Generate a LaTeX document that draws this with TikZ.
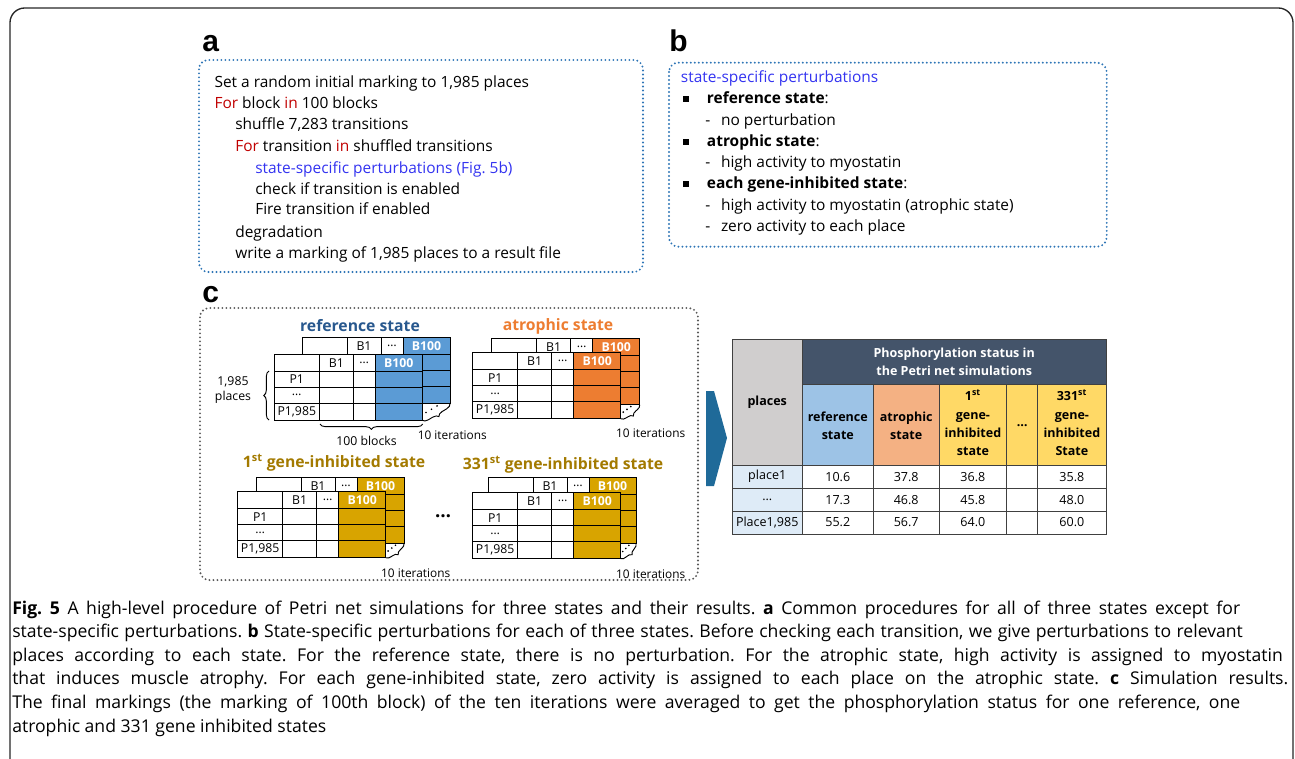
\documentclass[tikz,border=0pt]{standalone}
\usepackage{fontspec}
\setmainfont{Open Sans}
\newfontfamily\panelfont{Liberation Sans}
\usepackage{tikz}
\usetikzlibrary{decorations.pathreplacing,calc}
\frenchspacing
\definecolor{frameblue}{RGB}{46,117,182}
\definecolor{boxgrey}{RGB}{89,89,89}
\definecolor{forred}{RGB}{192,0,0}
\definecolor{pertblue}{RGB}{51,51,240}
\definecolor{refdark}{RGB}{40,88,142}
\definecolor{refblue}{RGB}{91,155,213}
\definecolor{atroorange}{RGB}{237,125,49}
\definecolor{genegold}{RGB}{216,164,0}
\definecolor{genedark}{RGB}{163,122,0}
\definecolor{navyhead}{RGB}{68,84,106}
\definecolor{placegrey}{RGB}{208,206,206}
\definecolor{refhead}{RGB}{157,195,230}
\definecolor{atrohead}{RGB}{244,177,131}
\definecolor{genehead}{RGB}{255,217,102}
\definecolor{placeblue}{RGB}{222,235,247}
\definecolor{arrowblue}{RGB}{31,106,153}
\definecolor{tabline}{RGB}{64,64,64}
\newcommand{\cellbf}{\fontsize{9.2}{11}\selectfont\bfseries}
% one layer of the block table: x, y, colour, name
\newcommand{\blocklayer}[4]{%
  \fill[white] ({#1},{#2}) rectangle ++(148,66);
  \fill[#3] ({#1+101},{#2}) rectangle ++(47,66);
  \draw[cellgrid] ({#1},{#2}) rectangle ++(148,66)
    ({#1},{#2+17}) -- ++(148,0) ({#1},{#2+33}) -- ++(148,0) ({#1},{#2+49}) -- ++(148,0)
    ({#1+45},{#2}) -- ++(0,66) ({#1+79},{#2}) -- ++(0,66) ({#1+101},{#2}) -- ++(0,66);
  \node[cellt] (#4-b1) at ({#1+62},{#2+8.5}) {B1};
  \node[cellt] (#4-dd) at ({#1+90},{#2+8.5}) {…};
  \node[cellt,text=white,font=\cellbf] (#4-b100) at ({#1+124.5},{#2+8.5}) {B100};
}
% stack of 10 layers: x, y, dx, dy, colour, name
\newcommand{\statestack}[6]{%
  \blocklayer{#1+#3}{#2-#4}{#5}{#6-back}
  \blocklayer{#1}{#2}{#5}{#6}
  \node[cellt] (#6-p1) at ({#1+22.5},{#2+25}) {P1};
  \node[cellt] (#6-pd) at ({#1+22.5},{#2+41}) {…};
  \node[cellt] (#6-pn) at ({#1+22.5},{#2+57.5}) {P1,985};
  \coordinate (#6-fc) at ({#1+148},{#2+66});
  \coordinate (#6-bc) at ({#1+#3+148},{#2-#4+66});
  \foreach \k in {-1,0,1}
    \fill ({#1+148+#3/3+\k*0.2*#3},{#2+66-2*#4/3-\k*0.2*#4}) circle (0.7pt);
  \draw[brc,decoration={mirror}] (#6-fc) -- (#6-bc);
  \node[iter] (#6-it) at ({#1+178},{#2+81}) {10 iterations};
}

\begin{document}
\begin{tikzpicture}[x=0.75pt,y=-0.75pt,
    every node/.style={inner sep=0pt},
    plabel/.style={font=\panelfont\fontsize{22.5}{24}\selectfont\bfseries,anchor=base west},
    pline/.style={font=\fontsize{11.6}{13}\selectfont,anchor=base west},
    dotbox/.style={draw=frameblue,line width=1.6pt,dash pattern=on 0pt off 3pt,line cap=round,rounded corners=7pt},
    greybox/.style={dotbox,draw=boxgrey},
    sq/.style={fill=black,minimum size=4.5pt},
    cellgrid/.style={draw=black,line width=0.6pt},
    cellt/.style={font=\fontsize{9.2}{11}\selectfont},
    sttitle/.style={font=\fontsize{11.8}{13}\selectfont\bfseries},
    iter/.style={font=\fontsize{8.9}{10}\selectfont},
    brc/.style={decorate,decoration={brace,amplitude=4pt},line width=0.7pt},
    tline/.style={draw=tabline,line width=0.7pt},
    th/.style={font=\fontsize{9.4}{13.8}\selectfont\bfseries,align=center},
    td/.style={font=\fontsize{9.4}{11}\selectfont},
    capline/.style={font=\fontsize{13.2}{15}\selectfont,anchor=base west}]
  \useasboundingbox (0,0) rectangle (1295,759);
  \clip (0,0) rectangle (1295,759);
  \draw[line width=1pt,draw=black!85,rounded corners=11pt] (10,8) rectangle (1293,775);

  % panel a
  \node[plabel] (la) at (202,52) {a};
  \draw[dotbox] (199,60) rectangle (643,272);
  \node[pline] (a1) at (214.3,87.3) {Set a random initial marking to 1,985 places};
  \node[pline] (a2) at (214.3,109) {\textcolor{forred}{For} block \textcolor{forred}{in} 100 blocks};
  \node[pline] (a3) at (235,130) {shuffle 7,283 transitions};
  \node[pline] (a4) at (235,151.7) {\textcolor{forred}{For} transition \textcolor{forred}{in} shuffled transitions};
  \node[pline,text=pertblue] (a5) at (255,173.3) {state-specific perturbations (Fig. 5b)};
  \node[pline] (a6) at (255,194.3) {check if transition is enabled};
  \node[pline] (a7) at (255,215) {Fire transition if enabled};
  \node[pline] (a8) at (235,237.3) {degradation};
  \node[pline] (a9) at (235,258.3) {write a marking of 1,985 places to a result file};

  % panel b
  \node[plabel] (lb) at (669,52) {b};
  \draw[dotbox] (669,62.7) rectangle (1106.7,246.7);
  \node[pline,text=pertblue] (b1) at (680.7,82.7) {state-specific perturbations};
  \node[sq] (q1) at (686,99) {};
  \node[sq] (q2) at (686,141.7) {};
  \node[sq] (q3) at (686,184) {};
  \node[pline] (b2) at (706.7,104) {\textbf{reference state}:};
  \node[pline] (b3) at (705,125.7) {\makebox[11.8pt][l]{-}no perturbation};
  \node[pline] (b4) at (706.7,146.7) {\textbf{atrophic state}:};
  \node[pline] (b5) at (705,168) {\makebox[11.8pt][l]{-}high activity to myostatin};
  \node[pline] (b6) at (706.7,189) {\textbf{each gene-inhibited state}:};
  \node[pline] (b7) at (705,211) {\makebox[11.8pt][l]{-}high activity to myostatin (atrophic state)};
  \node[pline] (b8) at (705,232) {\makebox[11.8pt][l]{-}zero activity to each place};

  % panel c
  \node[plabel] (lc) at (202,302) {c};
  \draw[greybox] (200,308) rectangle (698,580);
  \node[sttitle,text=refdark] (tref) at (360,326) {reference state};
  \node[sttitle,text=atroorange] (tatro) at (558,326) {atrophic state};
  \node[sttitle,text=genedark] (tfirst) at (334,463) {1\textsuperscript{st} gene-inhibited state};
  \node[sttitle,text=genedark] (tlast) at (563,465) {331\textsuperscript{st} gene-inhibited state};
  \statestack{274.3}{354.3}{27.7}{16.6}{refblue}{ref}
  \statestack{472.7}{352.7}{19}{14}{atroorange}{atro}
  \statestack{237.7}{491.7}{18.3}{14.4}{genegold}{first}
  \statestack{472.7}{492.7}{15.3}{15.4}{genegold}{last}
  \draw[brc] (269,420) -- (269,371);
  \node[cellt,align=center] (nplaces) at (233,390) {1,985\\places};
  \draw[brc] (422.7,424) -- (320,424);
  \node[cellt] (nblocks) at (366.5,441) {100 blocks};
  \node[font=\fontsize{14}{14}\selectfont\bfseries] (more) at (443,516) {…};

  % arrow to the result table
  \fill[arrowblue] (706,391) -- (714,391) -- (727,438) -- (714,486) -- (706,486) -- cycle;

  % result table
  \fill[placegrey] (732,339) rectangle (802.3,465);
  \fill[navyhead] (802.3,339) rectangle (1106,384.3);
  \fill[refhead] (802.3,384.3) rectangle (873.3,465);
  \fill[atrohead] (873.3,384.3) rectangle (939,465);
  \fill[genehead] (939,384.3) rectangle (1106,465);
  \fill[placeblue] (732,465) rectangle (802.3,534);
  \draw[tline] (732,339) rectangle (1106,534)
    (802.3,339) -- (802.3,534) (802.3,384.3) -- (1106,384.3)
    (873.3,384.3) -- (873.3,534) (939,384.3) -- (939,534)
    (1006.7,384.3) -- (1006.7,534) (1037.7,384.3) -- (1037.7,534)
    (732,465) -- (1106,465) (732,488.3) -- (1106,488.3) (732,511) -- (1106,511);
  \node[th] (hplaces) at (767.2,402) {places};
  \node[th,text=white] (hphos) at (954.2,362) {Phosphorylation status in\\the Petri net simulations};
  \node[th] (href) at (837.8,425.5) {reference\\state};
  \node[th] (hatro) at (906.2,425.5) {atrophic\\state};
  \node[th] (hfirst) at (972.9,423) {1\textsuperscript{st}\\gene-\\inhibited\\state};
  \node[th] (hdots) at (1022.2,425.5) {…};
  \node[th] (hlast) at (1071.9,423) {331\textsuperscript{st}\\gene-\\inhibited\\State};
  \node[td] (r1c1) at (767.2,476.7) {place1};
  \node[td] (r1c2) at (837.8,476.7) {10.6};
  \node[td] (r1c3) at (906.2,476.7) {37.8};
  \node[td] (r1c4) at (972.9,476.7) {36.8};
  \node[td] (r1c6) at (1071.9,476.7) {35.8};
  \node[td] (r2c1) at (767.2,499.7) {…};
  \node[td] (r2c2) at (837.8,499.7) {17.3};
  \node[td] (r2c3) at (906.2,499.7) {46.8};
  \node[td] (r2c4) at (972.9,499.7) {45.8};
  \node[td] (r2c6) at (1071.9,499.7) {48.0};
  \node[td] (r3c1) at (767.2,522.5) {Place1,985};
  \node[td] (r3c2) at (837.8,522.5) {55.2};
  \node[td] (r3c3) at (906.2,522.5) {56.7};
  \node[td] (r3c4) at (972.9,522.5) {64.0};
  \node[td] (r3c6) at (1071.9,522.5) {60.0};

  % caption
  \node[capline] (cap1) at (12,614) {\makebox[921pt][s]{\textbf{Fig. 5} A high-level procedure of Petri net simulations for three states and their results. \textbf{a} Common procedures for all of three states except for}};
  \node[capline] (cap2) at (12,637.6) {\makebox[923pt][s]{state-specific perturbations. \textbf{b} State-specific perturbations for each of three states. Before checking each transition, we give perturbations to relevant}};
  \node[capline] (cap3) at (12,661.2) {\makebox[953pt][s]{places according to each state. For the reference state, there is no perturbation. For the atrophic state, high activity is assigned to myostatin}};
  \node[capline] (cap4) at (12,684.8) {\makebox[957pt][s]{that induces muscle atrophy. For each gene-inhibited state, zero activity is assigned to each place on the atrophic state. \textbf{c} Simulation results.}};
  \node[capline] (cap5) at (12,708.4) {\makebox[921pt][s]{The final markings (the marking of 100th block) of the ten iterations were averaged to get the phosphorylation status for one reference, one}};
  \node[capline] (cap6) at (12,732) {atrophic and 331 gene inhibited states};
\end{tikzpicture}
\end{document}
